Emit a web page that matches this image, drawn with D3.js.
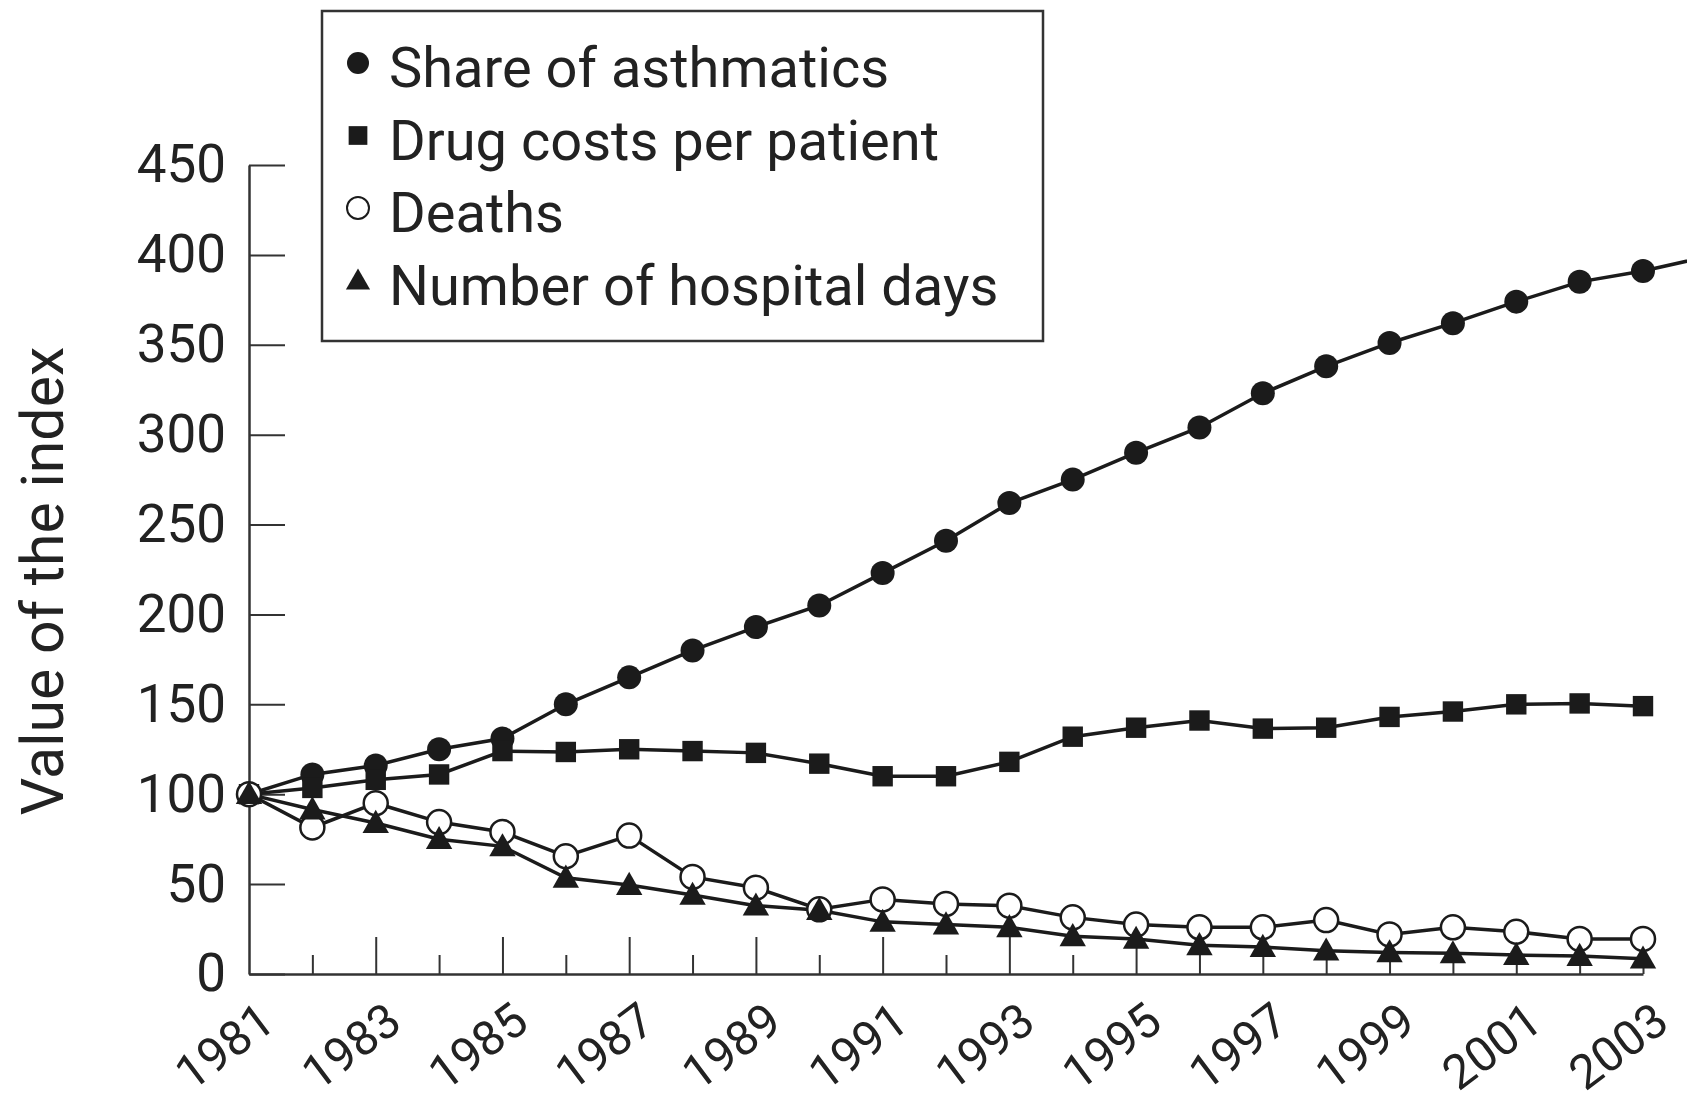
<!DOCTYPE html>
<html>
<head>
<meta charset="utf-8">
<script src="https://cdn.jsdelivr.net/npm/d3@7"></script>
<style>
  body { margin: 0; background: #fff; }
  svg { display: block; font-family: Roboto, "Liberation Sans", sans-serif; }
</style>
</head>
<body>
<svg id="chart"></svg>
<script>
// data (index, 1981 = 100)
const years = [1981, 1982, 1983, 1984, 1985, 1986, 1987, 1988, 1989, 1990, 1991, 1992,
  1993, 1994, 1995, 1996, 1997, 1998, 1999, 2000, 2001, 2002, 2003];
// the share line runs on past the right edge (one more year, 2004)
const shareYears = years.concat([2004]);
const shareAsthmatics = [100, 111, 116, 125, 131, 150, 165, 180, 193, 205, 223, 241,
  262, 275, 290, 304, 323, 338, 351, 362, 374, 385, 391, 399];
const drugCosts = [100, 103.5, 108, 111, 124, 123.5, 125, 124, 123, 117, 110, 110,
  118, 132, 137, 141, 136.5, 137, 143, 146, 150, 150.5, 149];
const deaths = [100, 81.5, 95, 84.5, 79, 65.5, 77, 54, 48, 36, 41.5, 39,
  38, 31.5, 27.5, 26, 26, 30, 22, 26, 23.5, 19.5, 19.5];
const hospitalDays = [100, 91.5, 84, 75, 71, 53.5, 49.5, 44, 38, 35.5, 29, 27.5,
  26, 21, 19.5, 16, 15, 13, 12, 11.5, 10.5, 10, 8.5];
const yTicks = [0, 50, 100, 150, 200, 250, 300, 350, 400, 450];
const legendLabels = ['Share of asthmatics', 'Drug costs per patient', 'Deaths', 'Number of hospital days'];

const W = 1687, H = 1103;
const ink = '#1b1b1b';

const svg = d3.select('#chart').attr('width', W).attr('height', H);
svg.append('rect').attr('width', W).attr('height', H).attr('fill', '#fff');

const x = d3.scaleLinear().domain([1981, 2003]).range([249, 1643]);
const y = d3.scaleLinear().domain([0, 450]).range([974, 165]);

// y axis, ticks pointing into the plot
const yAxis = svg.append('g')
  .attr('transform', `translate(${x(1981)},0)`)
  .call(d3.axisLeft(y).tickValues(yTicks).tickSizeInner(-36).tickSizeOuter(0).tickPadding(23));
yAxis.select('.domain').attr('stroke', '#333').attr('stroke-width', 2.5);
yAxis.selectAll('.tick line').attr('stroke', '#333').attr('stroke-width', 2);
yAxis.selectAll('.tick text')
  .attr('font-size', 53).attr('fill', '#222').attr('font-family', 'Roboto, sans-serif');

// x axis, odd years long ticks with labels, even years short ticks
const xAxis = svg.append('g')
  .attr('transform', `translate(0,${y(0)})`)
  .call(d3.axisBottom(x).tickValues(years).tickSizeOuter(0)
    .tickFormat(d => (d % 2 ? d : '')));
xAxis.select('.domain').attr('stroke', '#333').attr('stroke-width', 2.5);
xAxis.selectAll('.tick line')
  .attr('stroke', '#333').attr('stroke-width', 2)
  .attr('y2', d => (d === 1981 ? 0 : d % 2 ? -37 : -19));
xAxis.selectAll('.tick text')
  .attr('font-size', 48).attr('fill', '#222').attr('font-family', 'Roboto, sans-serif')
  .attr('text-anchor', 'end')
  .attr('x', 28).attr('y', 53).attr('dy', 0)
  .attr('transform', 'rotate(-37, 28, 53)');
xAxis.selectAll('.tick text').filter(d => d % 2 === 0).remove();

// y axis title
svg.append('text')
  .attr('transform', `translate(63,581) rotate(-90)`)
  .attr('text-anchor', 'middle')
  .attr('font-size', 59).attr('fill', '#222')
  .text('Value of the index');

const line = d3.line().x(d => x(d[0])).y(d => y(d[1]));

const series = [
  {name: legendLabels[0], yrs: shareYears, vals: shareAsthmatics, shape: 'dot'},
  {name: legendLabels[1], yrs: years, vals: drugCosts, shape: 'square'},
  {name: legendLabels[2], yrs: years, vals: deaths, shape: 'ring'},
  {name: legendLabels[3], yrs: years, vals: hospitalDays, shape: 'triangle'},
];

function drawMarker(g, shape, size, sw) {
  if (shape === 'dot') {
    g.append('circle').attr('r', size).attr('fill', ink);
  } else if (shape === 'ring') {
    g.append('circle').attr('r', size).attr('fill', '#fff').attr('stroke', ink).attr('stroke-width', sw);
  } else if (shape === 'square') {
    g.append('rect').attr('x', -size * 0.85).attr('y', -size * 0.85)
      .attr('width', size * 1.7).attr('height', size * 1.7).attr('fill', ink);
  } else {
    const s = size * 1.1;
    g.append('path').attr('d', `M0,${-s}L${s},${s * 0.75}L${-s},${s * 0.75}Z`).attr('fill', ink);
  }
}

const plot = svg.append('g');
series.forEach(s => {
  const pts = s.yrs.map((yr, i) => [yr, s.vals[i]]);
  plot.append('path')
    .attr('d', line(pts))
    .attr('fill', 'none').attr('stroke', ink).attr('stroke-width', 3.5);
});
series.forEach(s => {
  const pts = s.yrs.map((yr, i) => [yr, s.vals[i]]);
  pts.forEach(p => {
    const g = plot.append('g').attr('transform', `translate(${x(p[0])},${y(p[1])})`);
    drawMarker(g, s.shape, 12, 2.5);
  });
});

// legend
const legend = svg.append('g');
legend.append('rect')
  .attr('x', 322).attr('y', 11).attr('width', 1043 - 322).attr('height', 341 - 11)
  .attr('fill', '#fff').attr('stroke', '#333').attr('stroke-width', 2.5);
series.forEach((s, i) => {
  const base = 87 + i * 72.5;
  const g = legend.append('g').attr('transform', `translate(358,${base - 24})`);
  drawMarker(g, s.shape, 11, 2);
  legend.append('text')
    .attr('x', 389).attr('y', base)
    .attr('font-size', 56).attr('fill', '#222')
    .text(s.name);
});
</script>
</body>
</html>
